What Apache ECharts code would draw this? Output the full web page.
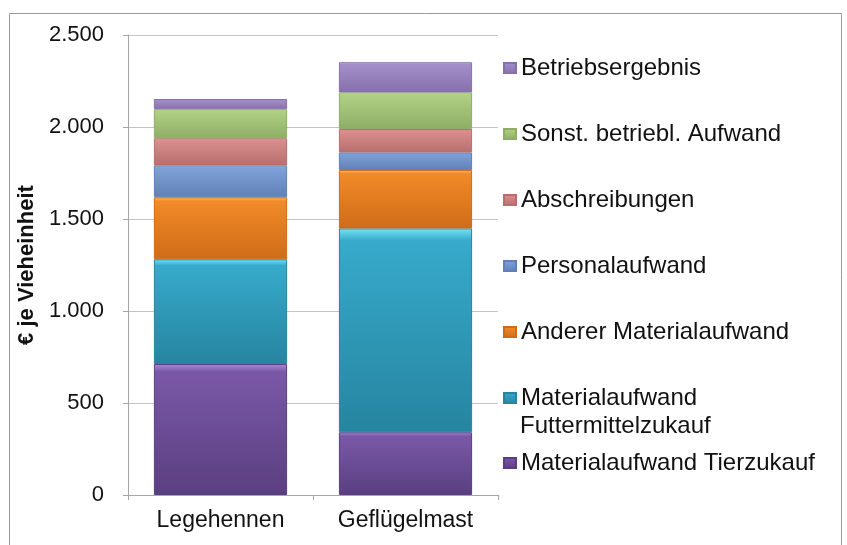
<!DOCTYPE html>
<html>
<head>
<meta charset="utf-8">
<title>€ je Vieheinheit</title>
<script src="https://cdn.jsdelivr.net/npm/echarts@6/dist/echarts.min.js"></script>
<style>
  html, body { margin: 0; padding: 0; background: #fff; }
  #chart { width: 847px; height: 545px; }
</style>
</head>
<body>
<div id="chart"></div>
<script>
// categories on the x axis
const categories = ['Legehennen', 'Geflügelmast'];

// stacked cost components, bottom to top (€ je Vieheinheit)
const tierzukauf = [712, 341];
const futterzukauf = [569, 1108];
const andererMaterial = [337, 317];
const personal = [172, 96];
const abschreibungen = [149, 127];
const sonstAufwand = [157, 199];
const betriebsergebnis = [56, 164];

const yTicks = [0, 500, 1000, 1500, 2000, 2500];

const FONT = '"Liberation Sans", Arial, sans-serif';

// [highlight, base, shade] per segment
const palette = {
  'Materialaufwand Tierzukauf': ['#a98ad8', '#7a58a8', '#5a3f80'],
  'Materialaufwand Futtermittelzukauf': ['#78e2f8', '#37aacb', '#2685a0'],
  'Anderer Materialaufwand': ['#ffc070', '#f28a28', '#cf6c18'],
  'Personalaufwand': ['#c8e4ff', '#7fa2d8', '#5f80b8'],
  'Abschreibungen': ['#fcc8c8', '#da8f8f', '#b86e6e'],
  'Sonst. betriebl. Aufwand': ['#e2f6bc', '#b0d084', '#8eae66'],
  'Betriebsergebnis': ['#e6d8fa', '#a58fcb', '#8670ac']
};

const seriesDefs = [
  ['Materialaufwand Tierzukauf', tierzukauf],
  ['Materialaufwand Futtermittelzukauf', futterzukauf],
  ['Anderer Materialaufwand', andererMaterial],
  ['Personalaufwand', personal],
  ['Abschreibungen', abschreibungen],
  ['Sonst. betriebl. Aufwand', sonstAufwand],
  ['Betriebsergebnis', betriebsergebnis]
];

// legend rows, top to bottom, with their vertical centres
const legendRows = [
  ['Betriebsergebnis', 68],
  ['Sonst. betriebl. Aufwand', 134],
  ['Abschreibungen', 200],
  ['Personalaufwand', 266],
  ['Anderer Materialaufwand', 332],
  ['Materialaufwand Futtermittelzukauf', 398],
  ['Materialaufwand Tierzukauf', 463]
];

const fmt = v => String(v).replace(/\B(?=(\d{3})+(?!\d))/g, '.');

const chart = echarts.init(document.getElementById('chart'), null, { renderer: 'canvas' });

const series = seriesDefs.map(([name, data]) => {
  const [hi, base, shade] = palette[name];
  return {
    name,
    type: 'bar',
    stack: 'total',
    data,
    barCategoryGap: '28%',
    itemStyle: {
      color: new echarts.graphic.LinearGradient(0, 0, 0, 1, [
        { offset: 0, color: hi },
        { offset: 0.06, color: base },
        { offset: 1, color: shade }
      ]),
      borderColor: shade,
      borderWidth: 1
    },
    emphasis: { disabled: true }
  };
});

const legends = legendRows.map(([name, cy]) => ({
  data: [name],
  left: 503,
  top: cy - 12,
  padding: 0,
  icon: 'rect',
  itemWidth: 12,
  itemHeight: 10,
  selectedMode: false,
  formatter: n => n === 'Materialaufwand Futtermittelzukauf' ? 'Materialaufwand' : n,
  textStyle: { fontFamily: FONT, fontSize: 24, color: '#111' }
}));

chart.setOption({
  backgroundColor: '#fff',
  animation: false,
  textStyle: { fontFamily: FONT },
  grid: { left: 128, right: 349, top: 35, bottom: 50 },
  legend: legends,
  graphic: [
    {
      type: 'rect',
      shape: { x: 9.5, y: 13.5, width: 832, height: 560 },
      style: { fill: 'none', stroke: '#9a9a9a', lineWidth: 1 },
      silent: true
    },
    {
      type: 'text',
      left: 520,
      top: 414,
      style: { text: 'Futtermittelzukauf', font: '24px ' + FONT, fill: '#111' },
      silent: true
    }
  ],
  xAxis: {
    type: 'category',
    data: categories,
    axisLine: { lineStyle: { color: '#a6a6a6' } },
    axisTick: { show: true, length: 5, lineStyle: { color: '#a6a6a6' } },
    axisLabel: { fontSize: 23, color: '#111', margin: 14 }
  },
  yAxis: {
    type: 'value',
    min: yTicks[0],
    max: yTicks[yTicks.length - 1],
    interval: 500,
    name: '€ je Vieheinheit',
    nameLocation: 'middle',
    nameRotate: 90,
    nameGap: 90,
    nameTextStyle: { fontFamily: FONT, fontSize: 22, fontWeight: 'bold', color: '#111' },
    axisLine: { show: true, lineStyle: { color: '#a6a6a6' } },
    axisTick: { show: true, length: 5, lineStyle: { color: '#a6a6a6' } },
    axisLabel: { fontSize: 22, color: '#111', margin: 24, formatter: fmt },
    splitLine: { lineStyle: { color: '#c4c4c4' } }
  },
  series
});
</script>
</body>
</html>
